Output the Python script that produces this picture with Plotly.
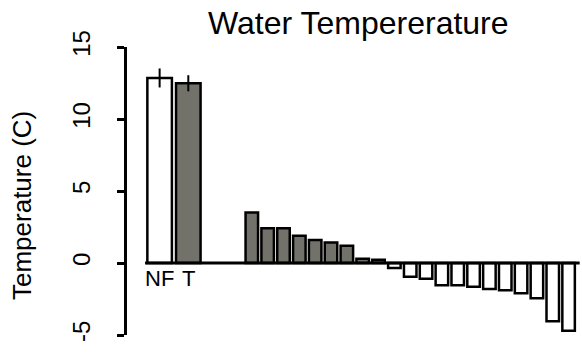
import plotly.graph_objects as go

# ---- data ----
group_labels = ["NF", "T"]
group_means = [12.85, 12.48]
group_err = [0.66, 0.56]
group_colors = ["#ffffff", "#72726a"]

diff_values = [3.5, 2.42, 2.42, 1.9, 1.6, 1.42, 1.19, 0.29, 0.22,
               -0.35, -0.95, -1.1, -1.55, -1.55, -1.65, -1.8, -1.9,
               -2.1, -2.45, -4.05, -4.7]

y_ticks = [-5, 0, 5, 10, 15]

GRAY = "#72726a"
FONT = "Liberation Sans, Arial, sans-serif"

# ---- positions (slot units) ----
group_x = [2.18, 3.99]
group_width = 1.55
diff_start = 8.0
diff_x = [diff_start + i for i in range(len(diff_values))]
diff_width = 0.79
diff_colors = [GRAY if v > 0 else "#ffffff" for v in diff_values]

fig = go.Figure()
fig.add_trace(go.Bar(
    x=group_x, y=group_means, width=group_width,
    marker=dict(color=group_colors, line=dict(color="black", width=2.5)),
    error_y=dict(type="data", array=group_err, color="black", thickness=2, width=0),
    showlegend=False,
))
fig.add_trace(go.Bar(
    x=diff_x, y=diff_values, width=diff_width,
    marker=dict(color=diff_colors, line=dict(color="black", width=2.5)),
    showlegend=False,
))

# baseline
fig.add_shape(type="line", xref="x", yref="y", x0=1.26, x1=28.7, y0=0, y1=0,
              line=dict(color="black", width=3))

annotations = [
    dict(text="Water Tempererature", xref="paper", yref="paper", x=0.512, y=1.085,
         xanchor="center", yanchor="middle", showarrow=False,
         font=dict(family=FONT, size=32, color="black")),
    dict(text="Temperature (C)", xref="paper", yref="paper", x=-0.232, y=0.451,
         xanchor="center", yanchor="middle", textangle=-90, showarrow=False,
         font=dict(family=FONT, size=26, color="black")),
]
for lab, xp in zip(group_labels, group_x):
    annotations.append(dict(text=lab, xref="x", yref="y", x=xp, y=-1.1,
                            xanchor="center", yanchor="middle", showarrow=False,
                            font=dict(family=FONT, size=22, color="black")))

fig.update_layout(
    width=582, height=354,
    margin=dict(l=127, r=2, t=47, b=19),
    plot_bgcolor="white", paper_bgcolor="white",
    barmode="overlay",
    annotations=annotations,
    xaxis=dict(range=[0.12, 28.72], visible=False, showgrid=False, zeroline=False),
    yaxis=dict(range=[-5, 15], tickvals=y_ticks, ticktext=[str(v) for v in y_ticks],
               tickangle=-90, ticks="outside", ticklen=7, tickwidth=2.5,
               tickcolor="black", showline=True, linewidth=2.5, linecolor="black",
               showgrid=False, zeroline=False, ticklabelstandoff=18,
               tickfont=dict(family=FONT, size=24, color="black")),
)

fig.write_html("out.html")
